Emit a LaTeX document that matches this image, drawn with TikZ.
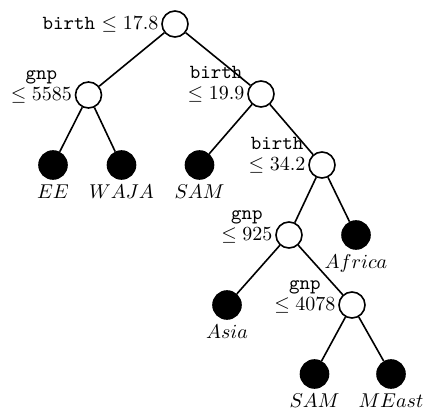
\documentclass[tikz,border=0pt]{standalone}
\begin{document}
\begin{tikzpicture}[x=0.5pt,y=-0.5pt,line width=0.8pt,label distance=1pt,
  inode/.style={circle,draw,fill=white,minimum size=13pt,inner sep=0pt},
  leaf/.style={circle,draw,fill=black,minimum size=14pt,inner sep=0pt},
  lbl/.style={inner xsep=1pt,inner ysep=0pt},
  toplbl/.style={inner sep=0pt,anchor=base},
  leaflbl/.style={inner sep=1pt}]
\useasboundingbox (0,0) rectangle (423,411);
% internal nodes
\node[inode] (r) at (175,24) {};
\node[inode] (g1) at (88.5,95) {};
\node[inode] (b2) at (261,94) {};
\node[inode] (b3) at (322,165) {};
\node[inode] (g2) at (289,235) {};
\node[inode] (g3) at (352,305) {};
% leaves
\node[leaf,label={[leaflbl]below:$EE$}] (ee) at (53,165) {};
\node[leaf,label={[leaflbl]below:$WAJA$}] (waja) at (121.5,165) {};
\node[leaf,label={[leaflbl]below:$SAM$}] (sam1) at (199.5,165) {};
\node[leaf,label={[leaflbl]below:$Africa$}] (afr) at (356,235) {};
\node[leaf,label={[leaflbl]below:$Asia$}] (asia) at (227,305) {};
\node[leaf,label={[leaflbl]below:$SAM$}] (sam2) at (314.5,374) {};
\node[leaf,label={[leaflbl]below:$MEast$}] (meast) at (391,374) {};
% labels
\node[lbl,anchor=east] (lr) at (r.west) {\texttt{birth} $\leq 17.8$};
\node[lbl,anchor=east] (lg1) at (g1.west) {$\leq 5585$};
\node[toplbl] at ([yshift=10.5pt]lg1.base) {\texttt{gnp}};
\node[lbl,anchor=east] (lb2) at (b2.west) {$\leq 19.9$};
\node[toplbl] at ([yshift=10.5pt]lb2.base) {\texttt{birth}};
\node[lbl,anchor=east] (lb3) at (b3.west) {$\leq 34.2$};
\node[toplbl] at ([yshift=10.5pt]lb3.base) {\texttt{birth}};
\node[lbl,anchor=east] (lg2) at (g2.west) {$\leq 925$};
\node[toplbl] at ([yshift=10.5pt]lg2.base) {\texttt{gnp}};
\node[lbl,anchor=east] (lg3) at (g3.west) {$\leq 4078$};
\node[toplbl] at ([yshift=10.5pt]lg3.base) {\texttt{gnp}};
% edges
\draw (r) -- (g1);
\draw (r) -- (b2);
\draw (g1) -- (ee);
\draw (g1) -- (waja);
\draw (b2) -- (sam1);
\draw (b2) -- (b3);
\draw (b3) -- (g2);
\draw (b3) -- (afr);
\draw (g2) -- (asia);
\draw (g2) -- (g3);
\draw (g3) -- (sam2);
\draw (g3) -- (meast);
\end{tikzpicture}
\end{document}
